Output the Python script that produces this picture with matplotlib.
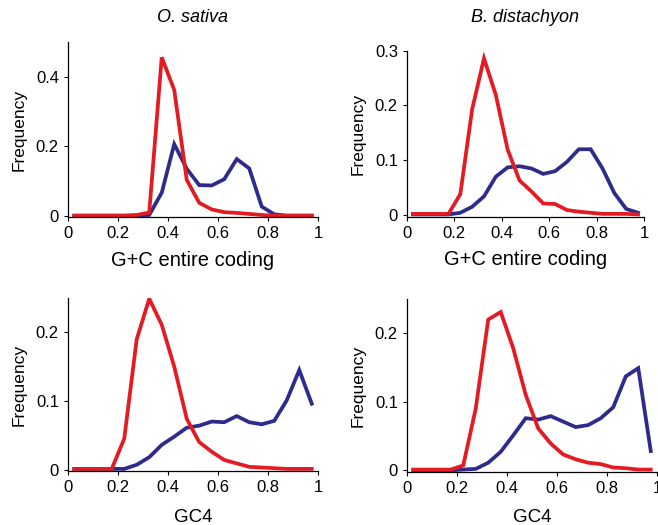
import matplotlib
matplotlib.use("Agg")
import matplotlib.pyplot as plt
import numpy as np

plt.rcParams.update({
    "font.family": ["Liberation Sans", "DejaVu Sans"],
    "font.size": 10,
    "axes.linewidth": 0.9,
    "xtick.direction": "out",
    "ytick.direction": "out",
    "xtick.major.size": 3,
    "ytick.major.size": 3,
})

# bin centres (20 bins of width 0.05)
bins = [0.025, 0.075, 0.125, 0.175, 0.225, 0.275, 0.325, 0.375, 0.425, 0.475,
        0.525, 0.575, 0.625, 0.675, 0.725, 0.775, 0.825, 0.875, 0.925, 0.975]

# O. sativa, G+C entire coding
os_gc_red = [0, 0, 0, 0, 0, 0.002, 0.009, 0.456, 0.362, 0.103,
             0.037, 0.018, 0.010, 0.008, 0.005, 0.002, 0, 0, 0, 0]
os_gc_blue = [0, 0, 0, 0, 0, 0, 0.002, 0.066, 0.206, 0.135,
              0.088, 0.087, 0.105, 0.163, 0.136, 0.026, 0.004, 0, 0, 0]

# B. distachyon, G+C entire coding
bd_gc_red = [0.002, 0.002, 0.002, 0.002, 0.038, 0.193, 0.286, 0.219, 0.119, 0.063,
             0.043, 0.021, 0.020, 0.009, 0.006, 0.004, 0.002, 0.002, 0.002, 0.001]
bd_gc_blue = [0.001, 0.001, 0.001, 0.001, 0.004, 0.015, 0.034, 0.070, 0.087, 0.089,
              0.085, 0.075, 0.080, 0.097, 0.120, 0.120, 0.085, 0.040, 0.011, 0.004]

# O. sativa, GC4
os_gc4_red = [0.001, 0.001, 0.001, 0.001, 0.045, 0.190, 0.249, 0.211, 0.150, 0.074,
              0.040, 0.026, 0.014, 0.009, 0.004, 0.003, 0.002, 0.001, 0.001, 0.001]
os_gc4_blue = [0.001, 0.001, 0.001, 0.001, 0.001, 0.007, 0.018, 0.036, 0.048, 0.061,
               0.064, 0.070, 0.069, 0.078, 0.069, 0.066, 0.071, 0.101, 0.145, 0.096]

# B. distachyon, GC4
bd_gc4_red = [0.001, 0.001, 0.001, 0.001, 0.007, 0.090, 0.220, 0.231, 0.178, 0.110,
              0.061, 0.039, 0.023, 0.016, 0.011, 0.009, 0.004, 0.003, 0.001, 0.001]
bd_gc4_blue = [0, 0, 0, 0, 0.001, 0.002, 0.011, 0.027, 0.051, 0.076,
               0.074, 0.079, 0.071, 0.063, 0.066, 0.076, 0.092, 0.137, 0.149, 0.028]

RED = "#E41B22"
BLUE = "#2E2B8C"

fig = plt.figure(figsize=(6.58, 5.25), dpi=100)

panels = [
    # rect, red, blue, ylim top, yticks, xlabel, xlabel size, labelpad, title
    ([0.1033, 0.5859, 0.380, 0.334], os_gc_red, os_gc_blue, 0.5, [0, 0.2, 0.4],
     "G+C entire coding", 14.5, 7, "O. sativa"),
    ([0.6185, 0.5874, 0.3602, 0.316], bd_gc_red, bd_gc_blue, 0.3, [0, 0.1, 0.2, 0.3],
     "G+C entire coding", 14.5, 7, "B. distachyon"),
    ([0.1033, 0.1023, 0.380, 0.330], os_gc4_red, os_gc4_blue, 0.25, [0, 0.1, 0.2],
     "GC4", 13.5, 9.5, None),
    ([0.6185, 0.1010, 0.380, 0.3295], bd_gc4_red, bd_gc4_blue, 0.25, [0, 0.1, 0.2],
     "GC4", 13.5, 9.5, None),
]

for rect, red, blue, ytop, yticks, xlabel, xsize, xpad, title in panels:
    ax = fig.add_axes(rect)
    ax.plot(bins, blue, color=BLUE, lw=2.7, solid_joinstyle="miter")
    ax.plot(bins, red, color=RED, lw=2.7, solid_joinstyle="miter")
    ax.set_xlim(0, 1)
    ax.set_ylim(-0.01 * ytop, ytop)
    ax.set_xticks([0, 0.2, 0.4, 0.6, 0.8, 1])
    ax.set_xticklabels(["0", "0.2", "0.4", "0.6", "0.8", "1"], fontsize=12)
    ax.set_yticks(yticks)
    ax.set_yticklabels(["0"] + [f"{t:g}" for t in yticks[1:]], fontsize=12)
    ax.spines["top"].set_visible(False)
    ax.spines["right"].set_visible(False)
    ax.set_xlabel(xlabel, fontsize=xsize, labelpad=xpad)
    ax.set_ylabel("Frequency", fontsize=12.5, labelpad=6.5)
    if title:
        x_mid = rect[0] + rect[2] / 2
        fig.text(x_mid, 1 - 18 / 525, title, fontsize=13, style="italic",
                 ha="center", va="center")

fig.savefig("out.png", dpi=100)
